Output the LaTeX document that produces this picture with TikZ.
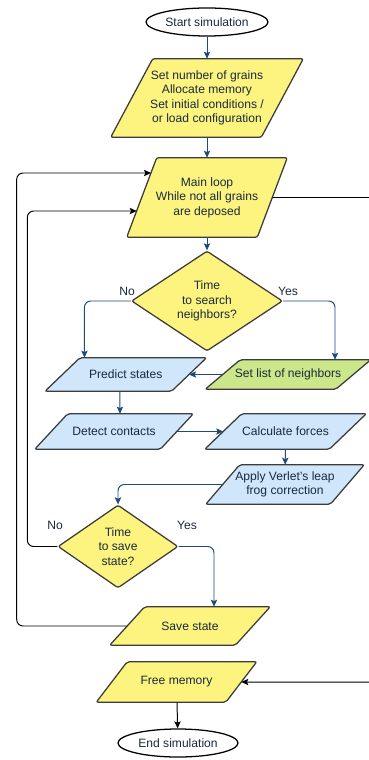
\documentclass[tikz,border=0pt]{standalone}
\usepackage{fontspec}
\setmainfont{Liberation Sans}
\usetikzlibrary{shapes.geometric,arrows.meta,calc,backgrounds}
\definecolor{boxyellow}{HTML}{FCF47F}
\definecolor{boxblue}{HTML}{CFE6FB}
\definecolor{boxgreen}{HTML}{CCE68A}
\definecolor{boxline}{HTML}{3C3C3C}
\definecolor{flowblue}{HTML}{1C4A7A}
\definecolor{txt}{HTML}{1B2A3D}

\begin{document}
\begin{tikzpicture}[x=0.025cm,y=-0.025cm,
  font=\fontsize{8.6}{10.3}\selectfont,
  every node/.style={text=txt,align=center},
  term/.style={draw,ellipse,line width=0.9pt,minimum width=3.05cm,minimum height=0.7cm,inner sep=0pt},
  para/.style={rectangle,inner sep=0pt},
  shapeframe/.style={draw=boxline,line width=0.9pt,rounded corners=1.5pt},
  test/.style={shapeframe,diamond,fill=boxyellow,inner sep=0pt},
  flow/.style={draw=flowblue,line width=0.7pt,-{Stealth[length=5pt,width=4.5pt,inset=1pt]},rounded corners=4.5pt},
  back/.style={draw=black,line width=0.7pt,-{Stealth[length=5pt,width=4.5pt,inset=1pt]},rounded corners=4.5pt}]
\useasboundingbox (0,0) rectangle (368,760);

\node[term] (start) at (207,22) {Start simulation};
\node[para,minimum width=3.75cm,minimum height=1.95cm] (init) at (207,98) {Set number of grains\\Allocate memory\\Set initial conditions /\\or load configuration};
\node[para,minimum width=3.25cm,minimum height=1.975cm] (mainloop) at (207,197.5) {Main loop\\While not all grains\\are deposed};
\node[test,minimum width=3.775cm,minimum height=2.425cm] (search) at (207,301) {Time\\to search\\neighbors?};
\node[para,minimum width=3.15cm,minimum height=0.825cm] (predict) at (125.75,374.5) {Predict states};
\node[para,minimum width=3.25cm,minimum height=0.725cm] (neighbors) at (288,374.5) {Set list of neighbors};
\node[para,minimum width=3.125cm,minimum height=0.875cm] (detect) at (114,431.5) {Detect contacts};
\node[para,minimum width=3.1cm,minimum height=0.875cm] (forces) at (285.5,431.5) {Calculate forces};
\node[para,minimum width=3.1cm,minimum height=0.975cm] (verlet) at (285,484.5) {Apply Verlet's leap\\frog correction};
\node[test,minimum width=3cm,minimum height=2.075cm] (savetest) at (118,546.5) {Time\\to save\\state?};
\node[para,minimum width=3.125cm,minimum height=0.95cm] (save) at (190,626) {Save state};
\node[para,minimum width=3.225cm,minimum height=1cm] (free) at (176.5,682) {Free memory};
\node[term,minimum width=3cm] (stop) at (178,743) {End simulation};

\node (no1) at (127,291) {No};
\node (yes1) at (288,291) {Yes};
\node (no2) at (55,525) {No};
\node (yes2) at (187,525) {Yes};

\begin{scope}[on background layer]
\foreach \n/\s/\c in {init/42/boxyellow, mainloop/30/boxyellow, predict/35/boxblue, neighbors/35/boxgreen, detect/33/boxblue, forces/37/boxblue, verlet/34/boxblue, save/35/boxyellow, free/31/boxyellow}
  \draw[shapeframe,fill=\c] ($(\n.north west)+(\s/2,0)$) -- ($(\n.north east)+(\s/2,0)$) -- ($(\n.south east)-(\s/2,0)$) -- ($(\n.south west)-(\s/2,0)$) -- cycle;
\end{scope}

\draw[flow] (start) -- (init);
\draw[flow] (init) -- (mainloop);
\draw[flow] (mainloop) -- (search);
\draw[flow] (search.west) -| ($(predict.north west)+(22,0)$);
\draw[flow] (search.east) -| ($(neighbors.north)+(47,0)$);
\draw[flow] (neighbors.west) -- (predict.east);
\draw[flow] ($(predict.south)+(-6,0)$) -- ($(detect.north)+(6,0)$);
\draw[flow] (detect.east) -- (forces.west);
\draw[flow] (forces) -- (verlet);
\draw[flow] (verlet.west) -| (savetest.north);
\draw[flow] (savetest.east) -| ($(save.north)+(24,0)$);

\draw[back] (savetest.west) -- ++(-30,0) |- ($(mainloop.west)+(-5,13.5)$);
\draw[back] (save.west) -- ++(-110.5,0) |- ($(mainloop.west)+(9.3,-24.5)$);
\draw[back] (mainloop.east) -- ++(115,0) |- (free.east);
\draw[back] (free) -- (stop);
\end{tikzpicture}
\end{document}
